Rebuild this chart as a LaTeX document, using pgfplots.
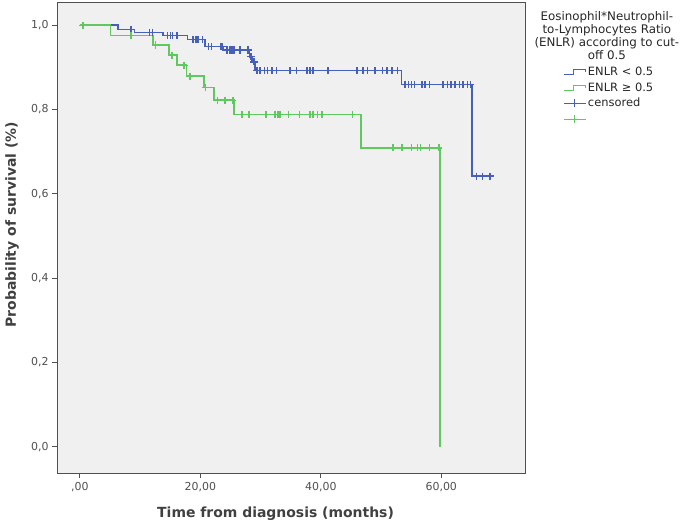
\documentclass[border=0pt]{standalone}
\usepackage{fontspec}
\setmainfont{DejaVu Sans}
\usepackage{pgfplots}
\pgfplotsset{compat=1.18}
\definecolor{kmblue}{RGB}{70,95,185}
\definecolor{kmgreen}{RGB}{95,200,95}
\definecolor{framegray}{RGB}{80,80,80}
\definecolor{bggray}{RGB}{240,240,240}
\begin{document}
\begin{tikzpicture}
\path[use as bounding box] (-57bp,-55bp) rectangle (628bp,473bp);
\begin{axis}[
  scale only axis,
  width=468bp, height=471bp,
  xmin=-3.8, xmax=73.9, ymin=-0.062, ymax=1.055,
  axis background/.style={fill=bggray},
  axis line style={framegray, line width=0.9pt},
  tick pos=left, tick align=outside,
  major tick length=5bp,
  tick style={framegray, line width=0.9pt},
  xtick={0,20,40,60},
  xticklabels={{,00},{20,00},{40,00},{60,00}},
  ytick={0,0.2,0.4,0.6,0.8,1},
  yticklabels={{0,0},{0,2},{0,4},{0,6},{0,8},{1,0}},
  ticklabel style={font=\fontsize{11}{13}\selectfont, text=framegray},
  xticklabel style={yshift=-1bp},
  every axis x label/.style={at={(axis description cs:0.467,-0.087)}, anchor=center, font=\bfseries\fontsize{14}{16}\selectfont, text=framegray!80!black},
  every axis y label/.style={at={(axis description cs:-0.096,0.527)}, rotate=90, anchor=center, font=\bfseries\fontsize{14}{16}\selectfont, text=framegray!80!black},
  xlabel={Time from diagnosis (months)},
  ylabel={Probability of survival (\%)},
  clip=false,
  legend style={at={(axis description cs:1.081,0.865)}, anchor=north west, draw=none, fill=none,
    font=\fontsize{11.5}{13}\selectfont, row sep=2.5bp, inner sep=0pt,
    nodes={inner sep=1.5pt, text=black!85}},
  legend cell align=left,
]
\addplot[const plot, draw=kmblue, line width=1.5pt, mark=none,
  legend image code/.code={\draw[kmblue, line width=1.4pt] (0bp,-2.5bp) -- (10bp,-2.5bp) -- (10bp,2.5bp) -- (22bp,2.5bp) -- (22bp,0bp);}]
coordinates {(0,1.0)(6.3,0.990)(9.1,0.983)(13.8,0.975)(17.9,0.966)(20.8,0.949)(23.8,0.941)(28.2,0.925)(28.6,0.913)(29.1,0.892)(53.4,0.859)(65.1,0.642)(68.1,0.642)};
\addlegendentry{ENLR < 0.5}
\addplot[const plot, draw=kmgreen, line width=1.5pt, mark=none,
  legend image code/.code={\draw[kmgreen, line width=1.4pt] (0bp,-2.5bp) -- (10bp,-2.5bp) -- (10bp,2.5bp) -- (22bp,2.5bp) -- (22bp,0bp);}]
coordinates {(0,1.0)(5.1,0.976)(12.1,0.953)(14.8,0.929)(16.1,0.905)(17.7,0.879)(20.6,0.852)(22.3,0.822)(25.6,0.788)(46.7,0.709)(59.8,0)};
\addlegendentry{ENLR ≥ 0.5}
\addplot[only marks, mark=+, mark size=3.6bp, kmblue, mark options={line width=1.3pt, draw=kmblue},
  legend image code/.code={\draw[kmblue, line width=1.3pt] (0bp,0bp) -- (22bp,0bp); \draw[kmblue, line width=1.3pt] (11bp,-4bp) -- (11bp,4bp);}]
coordinates {(8.5,0.990)(11.6,0.983)(12.1,0.983)(14.5,0.975)(15.0,0.975)(15.4,0.975)(16.1,0.975)(18.8,0.966)(19.3,0.966)(19.6,0.966)(20.3,0.966)(21.3,0.949)(21.9,0.949)(23.3,0.949)(23.6,0.949)(24.4,0.941)(24.8,0.941)(25.1,0.941)(25.4,0.941)(25.7,0.941)(26.6,0.941)(27.9,0.941)(28.4,0.925)(28.9,0.913)
(29.4,0.892)(29.9,0.892)(30.7,0.892)(31.2,0.892)(31.9,0.892)(32.7,0.892)(34.9,0.892)(36.0,0.892)(37.7,0.892)(38.2,0.892)(38.7,0.892)(41.2,0.892)(46.0,0.892)(47.0,0.892)(47.8,0.892)(49.0,0.892)(50.2,0.892)(51.0,0.892)(51.8,0.892)(52.7,0.892)
(54.0,0.859)(54.5,0.859)(55.0,0.859)(55.6,0.859)(56.8,0.859)(57.3,0.859)(58.1,0.859)(60.3,0.859)(61.0,0.859)(61.6,0.859)(62.3,0.859)(63.0,0.859)(63.6,0.859)(64.3,0.859)(64.8,0.859)
(65.8,0.642)(66.8,0.642)(68.1,0.642)};
\addlegendentry{censored}
\addplot[only marks, mark=+, mark size=3.6bp, kmgreen, mark options={line width=1.3pt, draw=kmgreen},
  legend image code/.code={\draw[kmgreen, line width=1.3pt] (0bp,0bp) -- (22bp,0bp); \draw[kmgreen, line width=1.3pt] (11bp,-4bp) -- (11bp,4bp);}]
coordinates {(0.5,1.0)(8.5,0.976)(12.6,0.953)(15.3,0.929)(17.3,0.905)(18.3,0.879)(20.8,0.852)(22.9,0.822)(24.1,0.822)(25.4,0.822)(26.9,0.788)(28.1,0.788)(30.9,0.788)(32.4,0.788)(32.9,0.788)(33.2,0.788)(34.6,0.788)(36.5,0.788)(38.2,0.788)(38.7,0.788)(39.4,0.788)(40.2,0.788)(45.3,0.788)(52.0,0.709)(53.5,0.709)(55.1,0.709)(56.1,0.709)(56.5,0.709)(58.1,0.709)(59.6,0.709)};
\addlegendentry{\strut}
\node[anchor=north, align=center, font=\fontsize{11.9}{13}\selectfont, text=black!85] at (axis description cs:1.175,0.988)
  {Eosinophil*Neutrophil-\\to-Lymphocytes Ratio\\(ENLR) according to cut-\\off 0.5};
\end{axis}
\end{tikzpicture}
\end{document}
